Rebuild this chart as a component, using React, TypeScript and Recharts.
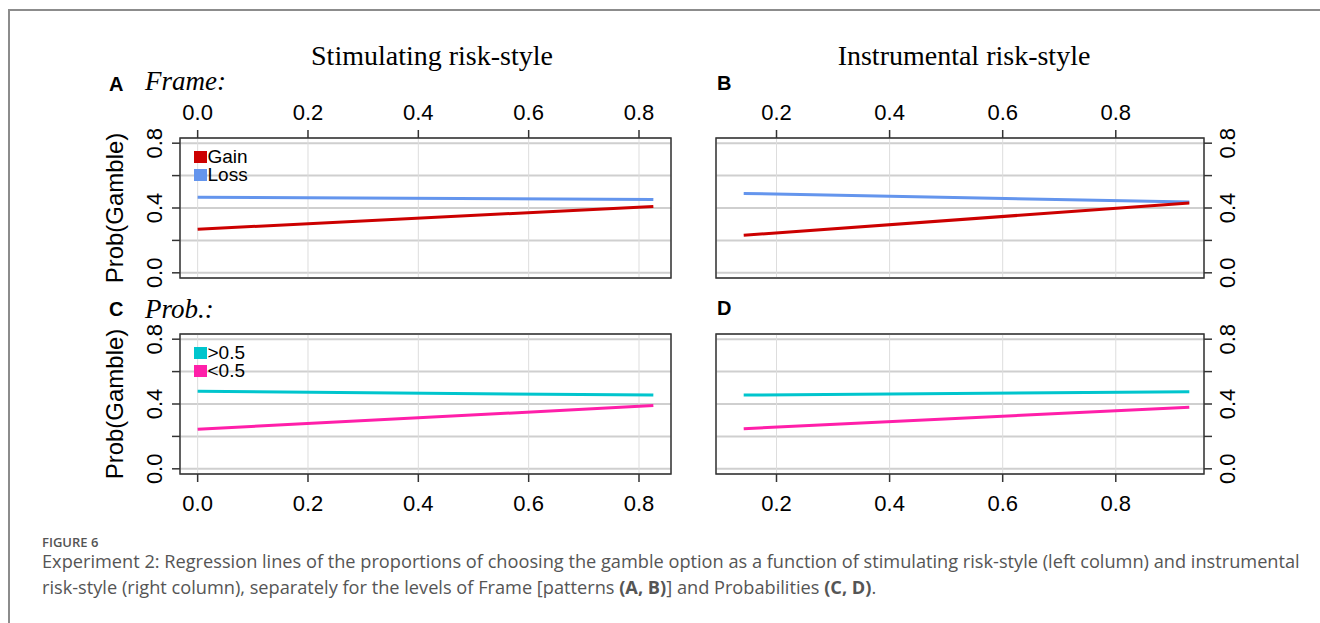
// Figure 6: regression lines of Prob(Gamble) by risk-style, four panels drawn with recharts.

import {
  CartesianGrid,
  Legend,
  Line,
  LineChart,
  ReferenceArea,
  XAxis,
  YAxis,
} from "recharts";

const SANS = "'Liberation Sans', Arial, sans-serif";
const SERIF = "'Liberation Serif', 'Times New Roman', serif";
const CAPTION = "'Open Sans', sans-serif";

// x range covered by each regression line
const stimX = [0, 0.826];
const instX = [0.142, 0.93];

// axis ranges / ticks
const stimDomain = [-0.032, 0.858];
const instDomain = [0.093, 0.956];
const yDomain = [-0.032, 0.832];
const stimTicks = [0, 0.2, 0.4, 0.6, 0.8];
const instTicks = [0.2, 0.4, 0.6, 0.8];
const yTicks = [0, 0.2, 0.4, 0.6, 0.8];
const yLabelTicks = [0, 0.4, 0.8];

// series
const frameNames = ["Gain", "Loss"];
const probNames = [">0.5", "<0.5"];
const aGain = [0.269, 0.41];
const aLoss = [0.466, 0.452];
const bGain = [0.232, 0.431];
const bLoss = [0.49, 0.437];
const cHigh = [0.478, 0.455];
const cLow = [0.244, 0.39];
const dHigh = [0.455, 0.476];
const dLow = [0.248, 0.38];

const frameColors = ["#cc0000", "#6495ed"];
const probColors = ["#00c5cd", "#ff1fa9"];

const rows = (xs: number[], s1: number[], s2: number[]) =>
  xs.map((x, i) => ({ x, s1: s1[i], s2: s2[i] }));

const tickLine = { stroke: "#333", strokeWidth: 1.5 };

function XTick({ x, y, payload, side }: any) {
  return (
    <text x={x} y={y} dy={side === "top" ? -8 : 27} textAnchor="middle"
          fontSize={22} fontFamily={SANS} fill="#000">
      {payload.value.toFixed(1)}
    </text>
  );
}

function YTick({ x, y, payload, side }: any) {
  if (!yLabelTicks.includes(payload.value)) return null;
  const bx = side === "left" ? x - 8 : x + 20.5;
  return (
    <text transform={`translate(${bx},${y}) rotate(-90)`} textAnchor="middle"
          fontSize={22} fontFamily={SANS} fill="#000">
      {payload.value.toFixed(1)}
    </text>
  );
}

function LegendBox({ names, colors }: { names: string[]; colors: string[] }) {
  return (
    <div style={{ fontFamily: SANS, fontSize: 19, color: "#000" }}>
      {names.map((n, i) => (
        <div key={n} style={{ display: "flex", alignItems: "center", height: 18.5 }}>
          <span style={{ width: 13, height: 12, background: colors[i], marginRight: 1 }} />
          <span style={{ lineHeight: "18px" }}>{n}</span>
        </div>
      ))}
    </div>
  );
}

interface PanelProps {
  px: number;
  py: number;
  pw: number;
  ph: number;
  xSide: "top" | "bottom";
  ySide: "left" | "right";
  xDomain: number[];
  xTicks: number[];
  data: { x: number; s1: number; s2: number }[];
  names: string[];
  colors: string[];
  legend?: boolean;
}

function Panel({ px, py, pw, ph, xSide, ySide, xDomain, xTicks, data, names, colors, legend }: PanelProps) {
  const m = 20;
  const xh = xSide === "top" ? 40 : 48;
  const yw = 70;
  const left = ySide === "left" ? px - m - yw : px - m;
  const top = xSide === "top" ? py - m - xh : py - m;
  const width = pw + yw + 2 * m;
  const height = ph + xh + 2 * m;
  return (
    <div style={{ position: "absolute", left, top }}>
      <LineChart width={width} height={height} data={data}
                 margin={{ top: m, right: m, bottom: m, left: m }}>
        <CartesianGrid vertical={false} stroke="#cfcfcf" strokeWidth={2} />
        <CartesianGrid horizontal={false} stroke="#dddddd" strokeWidth={1} />
        <XAxis dataKey="x" type="number" orientation={xSide} domain={xDomain} ticks={xTicks}
               interval={0} height={xh} tickSize={8} axisLine={false} tickLine={tickLine}
               tick={(p: any) => <XTick {...p} side={xSide} />} />
        <YAxis type="number" orientation={ySide} domain={yDomain} ticks={yTicks}
               interval={0} width={yw} tickSize={8} axisLine={false} tickLine={tickLine}
               tick={(p: any) => <YTick {...p} side={ySide} />} />
        <Line type="linear" dataKey="s2" name={names[1]} stroke={colors[1]} strokeWidth={3}
              dot={false} isAnimationActive={false} />
        <Line type="linear" dataKey="s1" name={names[0]} stroke={colors[0]} strokeWidth={3}
              dot={false} isAnimationActive={false} />
        <ReferenceArea x1={xDomain[0]} x2={xDomain[1]} y1={yDomain[0]} y2={yDomain[1]}
                       fill="none" fillOpacity={0} stroke="#333" strokeWidth={1.5} />
        {legend && (
          <Legend layout="vertical" align="center" verticalAlign="middle"
                  wrapperStyle={{ left: px - left + 13.5, top: py - top + 9.5, width: "auto", height: "auto" }}
                  content={() => <LegendBox names={names} colors={colors} />} />
        )}
      </LineChart>
    </div>
  );
}

function Overlay() {
  return (
    <svg width={1320} height={623} style={{ position: "absolute", left: 0, top: 0 }}>
      <path d="M9 623 L9 10 L1320 10" fill="none" stroke="#8c8c8c" strokeWidth={2} />
      <text x={432} y={65} textAnchor="middle" fontFamily={SERIF} fontSize={28}>Stimulating risk-style</text>
      <text x={964} y={65} textAnchor="middle" fontFamily={SERIF} fontSize={28}>Instrumental risk-style</text>
      <text x={109} y={91} fontFamily={SANS} fontWeight="bold" fontSize={20}>A</text>
      <text x={145} y={90} fontFamily={SERIF} fontStyle="italic" fontSize={27}>Frame:</text>
      <text x={717} y={90} fontFamily={SANS} fontWeight="bold" fontSize={20}>B</text>
      <text x={109} y={316} fontFamily={SANS} fontWeight="bold" fontSize={20}>C</text>
      <text x={145} y={318} fontFamily={SERIF} fontStyle="italic" fontSize={27}>Prob.:</text>
      <text x={717} y={315} fontFamily={SANS} fontWeight="bold" fontSize={20}>D</text>
      <text transform="translate(123,208) rotate(-90)" textAnchor="middle" fontFamily={SANS} fontSize={24}>Prob(Gamble)</text>
      <text transform="translate(123,404) rotate(-90)" textAnchor="middle" fontFamily={SANS} fontSize={24}>Prob(Gamble)</text>
      <text x={42} y={547} fontFamily={CAPTION} fontSize={13} fill="#555" fontWeight={600}>FIGURE 6</text>
      <text x={42} y={568} fontFamily={CAPTION} fontSize={18.2} fill="#555">
        Experiment 2: Regression lines of the proportions of choosing the gamble option as a function of stimulating risk-style (left column) and instrumental
      </text>
      <text x={42} y={594} fontFamily={CAPTION} fontSize={18.2} fill="#555">
        risk-style (right column), separately for the levels of Frame [patterns <tspan fontWeight="bold">(A, B)</tspan>] and Probabilities <tspan fontWeight="bold">(C, D)</tspan>.
      </text>
    </svg>
  );
}

export default function App() {
  return (
    <div style={{ position: "absolute", left: 0, top: 0, width: 1320, height: 623, background: "#fff" }}>
      <Overlay />
      <Panel px={180} py={138} pw={491} ph={140} xSide="top" ySide="left"
             xDomain={stimDomain} xTicks={stimTicks} data={rows(stimX, aGain, aLoss)}
             names={frameNames} colors={frameColors} legend />
      <Panel px={716} py={138} pw={488} ph={140} xSide="top" ySide="right"
             xDomain={instDomain} xTicks={instTicks} data={rows(instX, bGain, bLoss)}
             names={frameNames} colors={frameColors} />
      <Panel px={180} py={334} pw={491} ph={140} xSide="bottom" ySide="left"
             xDomain={stimDomain} xTicks={stimTicks} data={rows(stimX, cHigh, cLow)}
             names={probNames} colors={probColors} legend />
      <Panel px={716} py={334} pw={488} ph={140} xSide="bottom" ySide="right"
             xDomain={instDomain} xTicks={instTicks} data={rows(instX, dHigh, dLow)}
             names={probNames} colors={probColors} />
    </div>
  );
}
